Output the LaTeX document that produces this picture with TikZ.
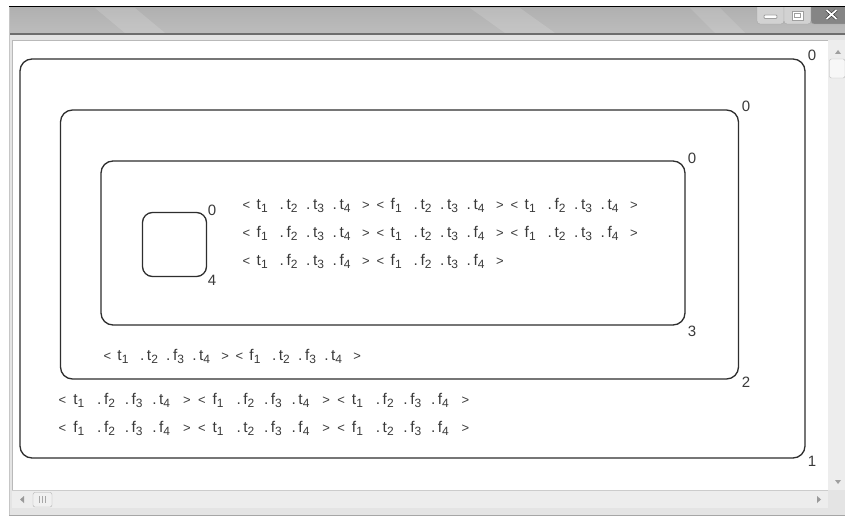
\documentclass[tikz,border=0pt]{standalone}
\usepackage{fontspec}
\setmainfont{Liberation Sans}
\definecolor{linec}{HTML}{2E2E2E}
\definecolor{txtc}{HTML}{3A3A3A}
\definecolor{framec}{HTML}{E4E4E4}
\definecolor{titletop}{HTML}{B0B0B0}
\definecolor{titlebot}{HTML}{BCBCBC}
\definecolor{darkline}{HTML}{6E6E6E}
\definecolor{sbc}{HTML}{EDEDED}
\definecolor{btnc}{HTML}{D2D2D2}
\definecolor{closec}{HTML}{858585}
\newlength\ua
\setlength\ua{1pt}
\newcommand\ssub[1]{\raisebox{-3.5pt}{\fontsize{12}{14}\selectfont#1}}
\newcommand\angl[1]{{\fontsize{13}{15}\selectfont#1}}
\newcommand\grp[4]{\makebox[14.5\ua][l]{\kern0.5pt\angl{<}}\makebox[23\ua][l]{#1\ssub{1}}\makebox[26.5\ua][l]{.\kern2.5pt#2\ssub{2}}\makebox[26.5\ua][l]{.\kern2.5pt#3\ssub{3}}\makebox[29.5\ua][l]{.\kern2.5pt#4\ssub{4}}\makebox[14\ua][l]{\angl{>}}}
\begin{document}
\begin{tikzpicture}[x=1pt,y=-1pt,
  rbox/.style={draw=linec,line width=1.3pt,rounded corners=12pt,inner sep=0pt},
  sbox/.style={draw=linec,line width=1.3pt,rounded corners=10pt,inner sep=0pt},
  lbl/.style={text=txtc,font=\fontsize{15}{18}\selectfont,inner sep=0pt},
  txt/.style={text=txtc,font=\fontsize{15.5}{18}\selectfont,inner sep=0pt,anchor=base west}]
\useasboundingbox (0,0) rectangle (845,519);
\fill[white] (0,0) rectangle (845,519);
% window frame
\fill[framec] (9,7) rectangle (845,515);
\shade[top color=titletop,bottom color=titlebot] (9,7) rectangle (845,33);
\fill[white,opacity=0.14] (95,8) -- (135,8) -- (165,33) -- (125,33) -- cycle;
\fill[white,opacity=0.14] (470,8) -- (520,8) -- (555,33) -- (505,33) -- cycle;
\fill[white,opacity=0.12] (690,8) -- (720,8) -- (745,33) -- (715,33) -- cycle;
\draw[black,line width=1.2pt] (9,6.6) -- (845,6.6);
\fill[darkline] (9,33) rectangle (845,35);
\fill[framec] (9,35) rectangle (845,40);
\draw[gray!45,line width=0.8pt] (9.5,7) -- (9.5,515);
% content area
\fill[white] (12,40) rectangle (828,490);
\draw[gray!55,line width=0.8pt] (12,490) -- (12,40) -- (828,40);
% vertical scrollbar
\fill[sbc] (828,40) rectangle (845,490);
\fill[gray!75] (835,54) -- (841,54) -- (838,50) -- cycle;
\draw[gray!55,fill=gray!6,rounded corners=2pt] (829.5,59) rectangle (845,78);
\fill[gray!75] (835,480) -- (841,480) -- (838,484) -- cycle;
% horizontal scrollbar
\fill[sbc] (12,490) rectangle (828,508);
\draw[gray!40,line width=0.6pt] (12,490) -- (828,490);
\fill[gray!80] (24,496) -- (24,503) -- (20,499.5) -- cycle;
\draw[gray!60,fill=gray!12,rounded corners=2pt] (33,492.5) rectangle (52,507);
\foreach \xx in {39.5,42.5,45.5} \draw[gray!70] (\xx,496) -- (\xx,503);
\fill[gray!80] (817,496) -- (817,503) -- (821,499.5) -- cycle;
\fill[framec] (828,490) rectangle (845,508);
\draw[gray!70,line width=1.5pt] (9,515.5) -- (845,515.5);
% title buttons
\draw[gray!70,fill=btnc,rounded corners=3pt] (757,4) rectangle (784,24);
\draw[gray!70,fill=btnc,rounded corners=3pt] (784,4) rectangle (811,24);
\draw[gray!70,fill=closec,rounded corners=3pt] (811,4) rectangle (848,24);
\fill[white] (756,0) rectangle (845,6);
\draw[black,line width=1.2pt] (756,6.6) -- (845,6.6);
\draw[gray!75,fill=white,line width=0.8pt,rounded corners=1pt] (764,15) rectangle (777,18.5);
\draw[gray!75,fill=white,line width=0.8pt] (792,11) rectangle (803,20);
\draw[gray!75,line width=0.8pt] (794.5,13.5) rectangle (800.5,17.5);
\draw[gray!40!black,line width=3pt] (826.5,10) -- (836.5,19) (836.5,10) -- (826.5,19);
\draw[white,line width=1.8pt] (826.5,10) -- (836.5,19) (836.5,10) -- (826.5,19);
% nested boxes
\node[rbox,minimum width=785pt,minimum height=399pt] (r1) at (412.5,258.5) {};
\node[rbox,minimum width=678pt,minimum height=269pt] (r2) at (399.5,244.5) {};
\node[rbox,minimum width=584pt,minimum height=164pt] (r3) at (393,243) {};
\node[sbox,minimum width=64pt,minimum height=64pt] (r4) at (174.5,244.5) {};
% corner labels
\node[lbl] (r1a) at (812,55) {0};
\node[lbl] (r1b) at (812,461) {1};
\node[lbl] (r2a) at (746,106) {0};
\node[lbl] (r2b) at (746,382) {2};
\node[lbl] (r3a) at (692,158) {0};
\node[lbl] (r3b) at (692,331) {3};
\node[lbl] (r4a) at (212,210) {0};
\node[lbl] (r4b) at (212,280) {4};
% texts
\node[txt] (i1) at (242,209) {\grp tttt\grp fttt\grp tftt};
\node[txt] (i2) at (242,237) {\grp fftt\grp tttf\grp fttf};
\node[txt] (i3) at (242,265) {\grp tftf\grp fftf};
\node[txt] (m1) at (103,360) {\setlength\ua{0.985pt}\grp ttft\grp ftft};
\node[txt] (o1) at (58,404) {\setlength\ua{1.04pt}\grp tfft\grp ffft\grp tfff};
\node[txt] (o2) at (58,432) {\setlength\ua{1.04pt}\grp ffff\grp ttff\grp ftff};
\end{tikzpicture}
\end{document}
